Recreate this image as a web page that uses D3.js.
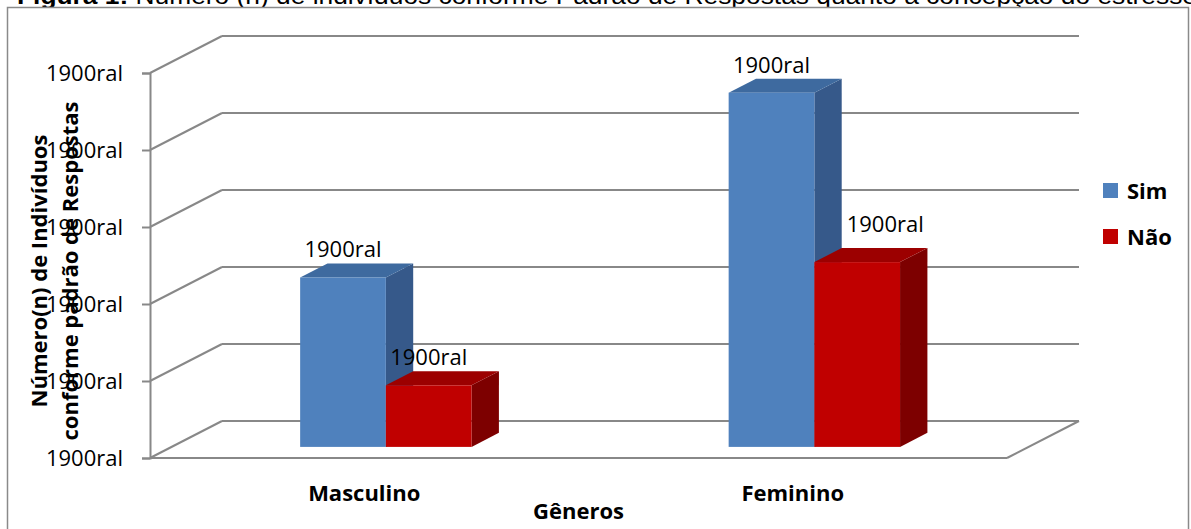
<!DOCTYPE html>
<html>
<head>
<meta charset="utf-8">
<script src="https://cdn.jsdelivr.net/npm/d3@7/dist/d3.min.js"></script>
<style>
  html, body { margin: 0; padding: 0; background: #fff; }
  svg { display: block; }
</style>
</head>
<body>
<svg id="chart" width="1191" height="529"></svg>
<script>
// Data
const categories = ["Masculino", "Feminino"];
const seriesNames = ["Sim", "Não"];
const simValues = [11, 23];
const naoValues = [4, 12];
const tickValues = [0, 5, 10, 15, 20, 25];
const tickLabels = ["1900ral", "1900ral", "1900ral", "1900ral", "1900ral", "1900ral"];
const simLabels = ["1900ral", "1900ral"];
const naoLabels = ["1900ral", "1900ral"];

const seriesValues = [simValues, naoValues];
const seriesLabels = [simLabels, naoLabels];

// Styling / layout
const faceColors = {
  "Sim": { front: "#4f81bd", top: "#3e6a9f", side: "#36598a" },
  "Não": { front: "#c00000", top: "#9c0000", side: "#7d0000" }
};
const gridColor = "#888888";
const depthDX = 72, depthDY = -37;          // full wall depth offset
const barDepth0 = 0.3, barDepth1 = 0.68;     // bar placement within the depth
// per-label nudges [series][category]
const labelNudge = [[[0, 0], [0, 0]], [[0, 0], [28, -10]]];

const svg = d3.select("#chart");

// Title (mostly above the page)
const title = svg.append("text")
  .attr("x", 17).attr("y", 4)
  .attr("font-family", "'Liberation Sans', Arial, sans-serif")
  .attr("font-size", 24).attr("fill", "#000")
  .attr("textLength", 1180).attr("lengthAdjust", "spacingAndGlyphs");
title.append("tspan").attr("font-weight", "bold").text("Figura 1:");
title.append("tspan").text(" Número (n) de indivíduos conforme Padrão de Respostas quanto à concepção do estresse");

// Chart frame
svg.append("rect")
  .attr("x", 7.5).attr("y", 7.5)
  .attr("width", 1181).attr("height", 560)
  .attr("fill", "#fff")
  .attr("stroke", "#8a8a8a").attr("stroke-width", 1.5);

// Scales
const x0 = d3.scaleBand().domain(categories).range([150, 1007]).padding(0);
const barW = x0.bandwidth() * 0.2;
const x1 = d3.scaleBand().domain(seriesNames).range([-barW, barW]).padding(0);
const y = d3.scaleLinear().domain([0, 25]).range([458, 73]);

const off = d => [depthDX * d, depthDY * d];
const fullBack = off(1);

// Walls: gridlines on side wall and back wall
const grid = svg.append("g")
  .attr("stroke", gridColor).attr("stroke-width", 2).attr("fill", "none");
tickValues.forEach(v => {
  const yy = y(v);
  grid.append("line")
    .attr("x1", 150).attr("y1", yy)
    .attr("x2", 150 + fullBack[0]).attr("y2", yy + fullBack[1]);
  grid.append("line")
    .attr("x1", 150 + fullBack[0]).attr("y1", yy + fullBack[1])
    .attr("x2", 1007 + fullBack[0]).attr("y2", yy + fullBack[1]);
});
// Floor front edge and right edge
grid.append("line")
  .attr("x1", 150).attr("y1", y(0)).attr("x2", 1007).attr("y2", y(0));
grid.append("line")
  .attr("x1", 1007).attr("y1", y(0))
  .attr("x2", 1007 + fullBack[0]).attr("y2", y(0) + fullBack[1]);

// Value axis
const axisG = svg.append("g").attr("transform", "translate(150,0)");
axisG.call(d3.axisLeft(y).tickValues(tickValues).tickSize(8).tickPadding(19)
  .tickFormat((d, i) => tickLabels[i]));
axisG.select(".domain").attr("stroke", gridColor).attr("stroke-width", 2);
axisG.selectAll(".tick line").attr("stroke", gridColor).attr("stroke-width", 2);
axisG.selectAll(".tick text")
  .attr("font-family", "'Open Sans', sans-serif")
  .attr("font-size", 22).attr("fill", "#000");

// 3D bars
const bars = svg.append("g");
const fr = off(barDepth0), bk = off(barDepth1);
const depthVec = [bk[0] - fr[0], bk[1] - fr[1]];
const poly = pts => pts.map(p => p.join(",")).join(" ");

categories.forEach((cat, ci) => {
  seriesNames.forEach((s, si) => {
    const v = seriesValues[si][ci];
    const xl = x0(cat) + x0.bandwidth() / 2 + x1(s) + fr[0];
    const xr = xl + x1.bandwidth();
    const yb = y(0) + fr[1];
    const yt = y(v) + fr[1];
    const c = faceColors[s];
    const [dx, dy] = depthVec;
    // right side face
    bars.append("polygon").attr("fill", c.side)
      .attr("points", poly([[xr, yt], [xr + dx, yt + dy], [xr + dx, yb + dy], [xr, yb]]));
    // top face
    bars.append("polygon").attr("fill", c.top)
      .attr("points", poly([[xl, yt], [xl + dx, yt + dy], [xr + dx, yt + dy], [xr, yt]]));
    // front face
    bars.append("rect").attr("fill", c.front)
      .attr("x", xl).attr("y", yt).attr("width", xr - xl).attr("height", yb - yt);
    // value label
    const nd = labelNudge[si][ci];
    bars.append("text")
      .attr("x", (xl + xr) / 2 + nd[0])
      .attr("y", yt + dy - 6 + nd[1])
      .attr("text-anchor", "middle")
      .attr("font-family", "'Open Sans', sans-serif")
      .attr("font-size", 22).attr("fill", "#000")
      .text(seriesLabels[si][ci]);
  });
});

// Category labels
svg.append("g").selectAll("text").data(categories).join("text")
  .attr("x", d => x0(d) + x0.bandwidth() / 2)
  .attr("y", 501)
  .attr("text-anchor", "middle")
  .attr("font-family", "'Open Sans', sans-serif")
  .attr("font-weight", "bold").attr("font-size", 22).attr("fill", "#000")
  .text(d => d);

// Axis titles
svg.append("text")
  .attr("x", (150 + 1007) / 2).attr("y", 519)
  .attr("text-anchor", "middle")
  .attr("font-family", "'Open Sans', sans-serif")
  .attr("font-weight", "bold").attr("font-size", 22).attr("fill", "#000")
  .text("Gêneros");

const yTitle = svg.append("text")
  .attr("transform", "translate(0,271) rotate(-90)")
  .attr("text-anchor", "middle")
  .attr("font-family", "'Open Sans', sans-serif")
  .attr("font-weight", "bold").attr("font-size", 22).attr("fill", "#000");
yTitle.append("tspan").attr("x", 0).attr("y", 47).text("Número(n)  de Indivíduos");
yTitle.append("tspan").attr("x", 0).attr("y", 78).text("conforme padrão de Respostas");

// Legend
const legend = svg.append("g");
seriesNames.forEach((s, i) => {
  const ly = 183 + i * 46;
  legend.append("rect")
    .attr("x", 1103).attr("y", ly).attr("width", 15).attr("height", 15)
    .attr("fill", faceColors[s].front);
  legend.append("text")
    .attr("x", 1127).attr("y", ly + 15.5)
    .attr("font-family", "'Open Sans', sans-serif")
    .attr("font-weight", "bold").attr("font-size", 22).attr("fill", "#000")
    .text(s);
});
</script>
</body>
</html>
